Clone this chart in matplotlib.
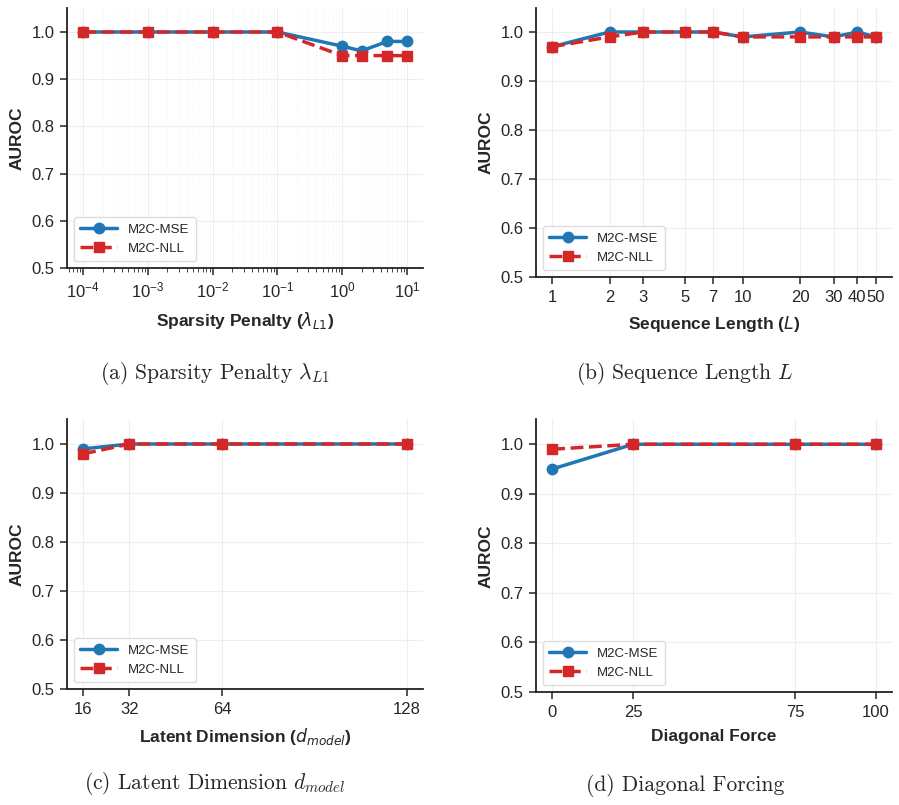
import matplotlib
matplotlib.use("Agg")
import matplotlib.pyplot as plt
import seaborn as sns
from matplotlib.ticker import NullFormatter, NullLocator

sns.set_style("ticks")
plt.rcParams['font.family'] = ['Liberation Sans', 'DejaVu Sans']
plt.rcParams['mathtext.fontset'] = 'dejavusans'

# (a) sparsity penalty
l1_vals = [1e-4, 1e-3, 1e-2, 1e-1, 1, 2, 5, 10]
l1_mse = [1.0, 1.0, 1.0, 1.0, 0.97, 0.96, 0.98, 0.98]
l1_nll = [1.0, 1.0, 1.0, 1.0, 0.95, 0.95, 0.95, 0.95]

# (b) sequence length
seq_vals = [1, 2, 3, 5, 7, 10, 20, 30, 40, 50]
seq_mse = [0.97, 1.0, 1.0, 1.0, 1.0, 0.99, 1.0, 0.99, 1.0, 0.99]
seq_nll = [0.97, 0.99, 1.0, 1.0, 1.0, 0.99, 0.99, 0.99, 0.99, 0.99]

# (c) latent dimension
dim_vals = [16, 32, 64, 128]
dim_mse = [0.99, 1.0, 1.0, 1.0]
dim_nll = [0.98, 1.0, 1.0, 1.0]

# (d) diagonal forcing
diag_vals = [0, 25, 75, 100]
diag_mse = [0.95, 1.0, 1.0, 1.0]
diag_nll = [0.99, 1.0, 1.0, 1.0]

W, H = 899, 805
fig = plt.figure(figsize=(W / 100, H / 100), dpi=100)


def box(left, top, right, bottom):
    return [left / W, 1 - bottom / H, (right - left) / W, (bottom - top) / H]


def panel(rect, x, mse, nll, xlabel, caption, cap_xy, logx=False):
    ax = fig.add_axes(rect)
    ax.plot(x, mse, '-o', color='#1f77b4', lw=2.5, ms=7.5, label='M2C-MSE')
    ax.plot(x, nll, '--s', color='#d62728', lw=2.5, ms=7.5, label='M2C-NLL')
    if logx:
        ax.set_xscale('log')
    ax.set_ylim(0.5, 1.05)
    ax.set_yticks([0.5, 0.6, 0.7, 0.8, 0.9, 1.0])
    ax.set_xlabel(xlabel, fontsize=12.5, fontweight='bold', labelpad=7)
    ax.set_ylabel('AUROC', fontsize=12.5, fontweight='bold', labelpad=5)
    ax.tick_params(labelsize=12, length=5, width=1.1, pad=4)
    ax.grid(True, which='major', color='#eeeeee', lw=0.8)
    for s in ['top', 'right']:
        ax.spines[s].set_visible(False)
    for s in ['left', 'bottom']:
        ax.spines[s].set_linewidth(1.3)
        ax.spines[s].set_color('#222222')
    ax.legend(loc='lower left', fontsize=9.5, frameon=True, handlelength=2.8,
              borderpad=0.5, framealpha=1.0, edgecolor='#dddddd', fancybox=True)
    fig.text(cap_xy[0] / W, 1 - cap_xy[1] / H, caption, ha='center', va='center',
             fontsize=15.5, family='cmr10', math_fontfamily='cm')
    return ax


axa = panel(box(67, 8.4, 423, 268), l1_vals, l1_mse, l1_nll,
            r'Sparsity Penalty ($\lambda_{L1}$)',
            r'(a) Sparsity Penalty $\lambda_{L1}$', (215, 373), logx=True)
axa.grid(True, which='minor', color='#f2f2f2', lw=0.5, ls=':')
axa.tick_params(which='minor', length=3)

axb = panel(box(536, 7.5, 892, 277), seq_vals, seq_mse, seq_nll,
            r'Sequence Length ($L$)',
            r'(b) Sequence Length $L$', (685, 373), logx=True)
axb.set_xticks(seq_vals)
axb.set_xticklabels([str(v) for v in seq_vals])
axb.xaxis.set_minor_locator(NullLocator())
axb.xaxis.set_minor_formatter(NullFormatter())

axc = panel(box(67, 419.5, 423, 689), dim_vals, dim_mse, dim_nll,
            r'Latent Dimension ($d_{model}$)',
            r'(c) Latent Dimension $d_{model}$', (215, 783))
axc.set_xticks(dim_vals)

axd = panel(box(536, 419.5, 892, 692), diag_vals, diag_mse, diag_nll,
            'Diagonal Force',
            '(d) Diagonal Forcing', (685, 785))
axd.set_xticks(diag_vals)

fig.savefig('out.png', dpi=100)
